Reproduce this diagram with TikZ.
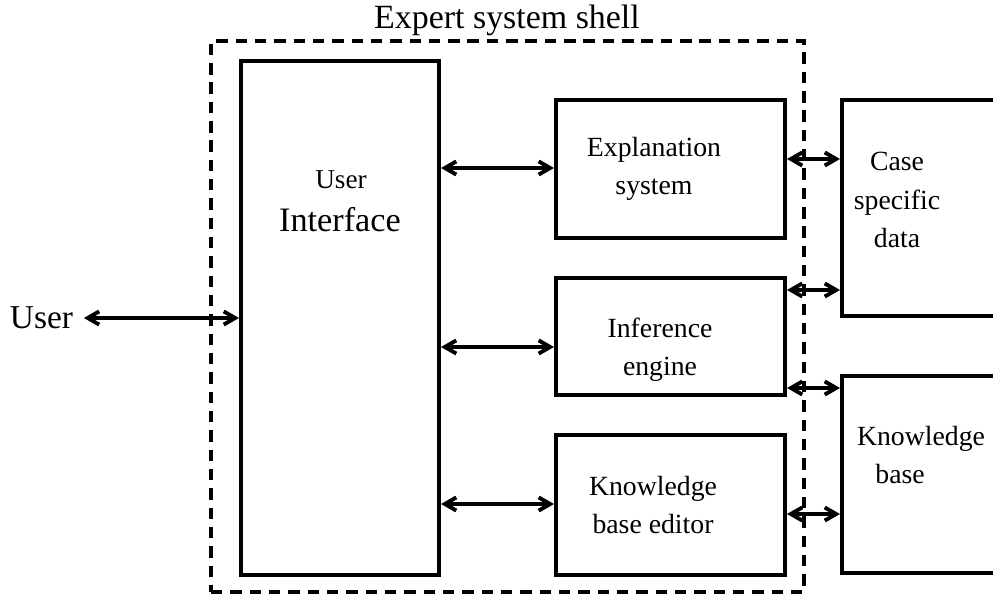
\documentclass[tikz,border=0pt]{standalone}
\usepackage{fontspec}
\setmainfont{Liberation Serif}
\usetikzlibrary{arrows.meta}

\tikzset{box/.style = {shape = rectangle,
                       draw,
                       line width = 2.3pt,
                       inner sep = 0pt},
         shellbox/.style = {shape = rectangle,
                            draw,
                            line width = 2.3pt,
                            dash pattern = on 6.5pt off 4.5pt,
                            inner sep = 0pt},
         txt/.style = {align = center,
                       inner sep = 1pt,
                       font = \fontsize{15.8}{21.8}\selectfont},
         link/.style = {line width = 2.2pt,
                        {Straight Barb[length=6.5pt,width=7.5pt]}-{Straight Barb[length=6.5pt,width=7.5pt]}}}

\begin{document}
\begin{tikzpicture}[x=0.02cm, y=-0.02cm]
		\useasboundingbox (0,0) rectangle (993,594);
		\clip (0,0) rectangle (993,594);
		% shell around the inner parts
		\node[shellbox, minimum width=11.86cm, minimum height=11.02cm] (shell) at (507.5,316.5) {};
		\node[font=\fontsize{19.3}{22}\selectfont] (shelltitle) at (507,20) {Expert system shell};
		% user interface
		\node[box, minimum width=3.96cm, minimum height=10.28cm] (ui) at (340,318) {};
		\node[font=\fontsize{15.5}{18}\selectfont] (uitop) at (341,180) {User};
		\node[font=\fontsize{19.5}{22}\selectfont] (uibot) at (340,220) {Interface};
		% middle column
		\node[box, minimum width=4.58cm, minimum height=2.76cm] (expl) at (670.5,169) {};
		\node[txt] (expltxt) at (654,169) {Explanation\\system};
		\node[box, minimum width=4.58cm, minimum height=2.34cm] (infer) at (670.5,336.5) {};
		\node[txt] (infertxt) at (660,350) {Inference\\engine};
		\node[box, minimum width=4.58cm, minimum height=2.8cm] (edit) at (670.5,505) {};
		\node[txt] (edittxt) at (653,505) {Knowledge\\base editor};
		% outside the shell
		\node[box, minimum width=5.16cm, minimum height=4.32cm] (case) at (971,208) {};
		\node[txt] (casetxt) at (897,200) {Case\\specific\\data};
		\node[box, minimum width=5.16cm, minimum height=3.94cm] (kb) at (971,474.5) {};
		\node[txt, align=left] (kbtxt) at (921,455) {Knowledge\\\hspace*{10.5pt}base};
		% the user
		\node[font=\fontsize{19}{22}\selectfont, inner sep=1pt] (user) at (41.5,318) {User};
		\draw[link] ([xshift=5pt]user.east) -- (ui.west |- user);
		% links
		\draw[link] (ui.east |- 0,168) -- (expl.west |- 0,168);
		\draw[link] (ui.east |- 0,347) -- (infer.west |- 0,347);
		\draw[link] (ui.east |- 0,504) -- (edit.west |- 0,504);
		\draw[link] (expl.east |- 0,159) -- (case.west |- 0,159);
		\draw[link] (infer.east |- 0,290) -- (case.west |- 0,290);
		\draw[link] (infer.east |- 0,388) -- (kb.west |- 0,388);
		\draw[link] (edit.east |- 0,514) -- (kb.west |- 0,514);
	\end{tikzpicture}
\end{document}
